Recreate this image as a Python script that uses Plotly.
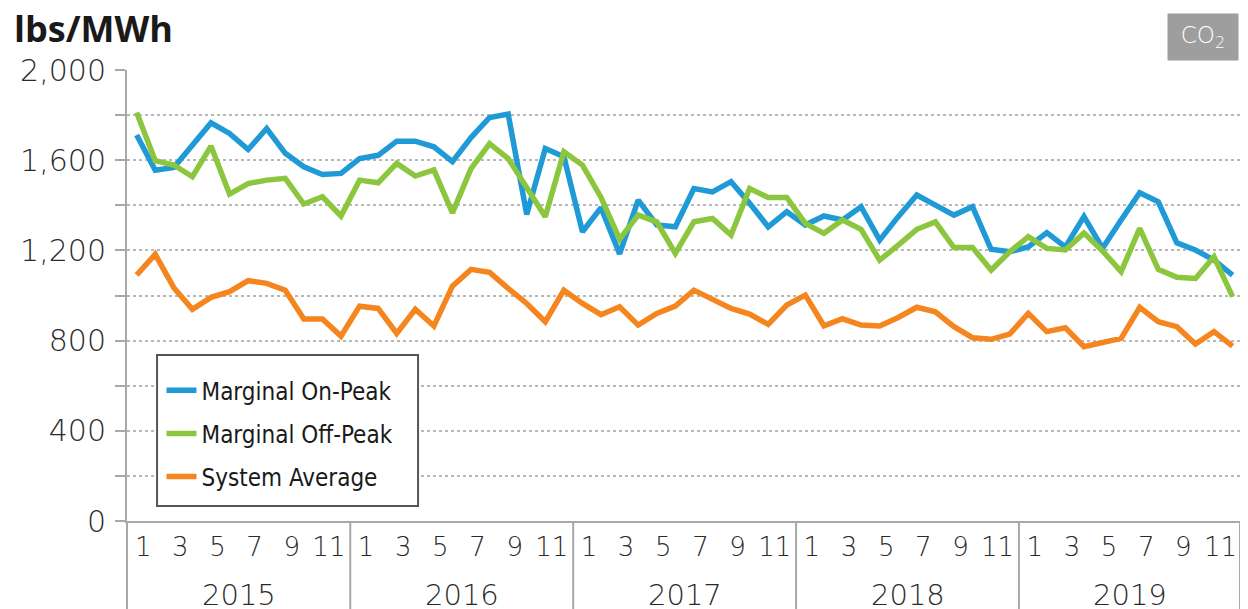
import plotly.graph_objects as go

years = ["2015", "2016", "2017", "2018", "2019"]
months = list(range(1, 13))

on_peak = [1712, 1556, 1568, 1667, 1766, 1719, 1648, 1741, 1631, 1571, 1537, 1542,
           1608, 1622, 1685, 1685, 1660, 1594, 1701, 1790, 1805, 1360, 1652, 1616,
           1283, 1390, 1185, 1423, 1313, 1305, 1475, 1460, 1505, 1409, 1305, 1372,
           1313, 1353, 1335, 1394, 1246, 1350, 1446, 1401, 1357, 1394, 1205, 1194,
           1216, 1279, 1216, 1350, 1210, 1335, 1456, 1416, 1234, 1202, 1157, 1091]
off_peak = [1812, 1598, 1579, 1527, 1663, 1450, 1497, 1512, 1520, 1406, 1438, 1353,
            1512, 1500, 1586, 1530, 1557, 1367, 1563, 1674, 1608, 1483, 1350, 1638,
            1579, 1435, 1250, 1357, 1327, 1187, 1327, 1342, 1268, 1475, 1435, 1435,
            1320, 1276, 1335, 1294, 1157, 1224, 1294, 1327, 1213, 1213, 1113, 1194,
            1261, 1209, 1202, 1277, 1198, 1106, 1298, 1116, 1081, 1076, 1172, 995]
system_avg = [1091, 1183, 1035, 939, 992, 1017, 1066, 1054, 1024, 896, 896, 820,
              953, 943, 832, 939, 865, 1042, 1116, 1103, 1032, 965, 884, 1024,
              965, 915, 950, 869, 921, 953, 1024, 984, 943, 918, 872, 958,
              1002, 866, 897, 869, 865, 903, 948, 928, 862, 813, 806, 829,
              921, 840, 857, 773, 790, 810, 948, 884, 862, 785, 840, 776]

y_ticks = [0, 400, 800, 1200, 1600, 2000]
y_tick_labels = ["0", "400", "800", "1,200", "1,600", "2,000"]

series = [("Marginal On-Peak", on_peak, "#1f9ad6"),
          ("Marginal Off-Peak", off_peak, "#8cc63e"),
          ("System Average", system_avg, "#f5861f")]

n = len(years) * len(months)
xs = list(range(n))

fig = go.Figure()
for i, (name, vals, col) in enumerate(series):
    fig.add_trace(go.Scatter(x=xs, y=vals, mode="lines", name=name,
                             line=dict(color=col, width=5.5),
                             legendgroup=f"g{i}"))

tickvals = []
ticktext = []
for yi in range(len(years)):
    for m in range(1, 13, 2):
        tickvals.append(yi * 12 + (m - 1) + 0.35)
        ticktext.append(str(m))

grid = "#b8b8b8"
axis_col = "#a8a8a8"
txt = "#2a2a2a"
num_font = "DejaVu Sans"

fig.update_layout(
    width=1240, height=601,
    margin=dict(l=119, r=8, t=62, b=88, autoexpand=False),
    paper_bgcolor="white", plot_bgcolor="white",
    showlegend=True,
    legend=dict(x=0.031, y=0.339, xanchor="left", yanchor="top",
                borderwidth=0, bgcolor="rgba(0,0,0,0)",
                font=dict(family="DejaVu Sans Condensed", size=24, color="#1a1a1a"),
                tracegroupgap=9, traceorder="grouped", itemwidth=30),
    xaxis=dict(range=[-0.52, 59.4], tickvals=tickvals, ticktext=ticktext,
               showgrid=False, zeroline=False, showline=True, linecolor=axis_col,
               linewidth=2, ticks="", automargin=False,
               tickfont=dict(family=num_font, size=26, color=txt, weight=200),
               ticklabelstandoff=2),
    yaxis=dict(range=[0, 2000.5], tickvals=y_ticks, ticktext=y_tick_labels,
               showgrid=True, gridcolor=grid, griddash="dot", gridwidth=1.5,
               zeroline=False, showline=True, linecolor=axis_col, linewidth=2,
               ticks="outside", ticklen=10, tickcolor=axis_col, tickwidth=2,
               automargin=False,
               tickfont=dict(family=num_font, size=30, color=txt, weight=200),
               ticklabelstandoff=3,
               minor=dict(dtick=200, showgrid=True, gridcolor=grid, griddash="dot",
                          gridwidth=1.5, ticks="outside", ticklen=10,
                          tickcolor=axis_col, tickwidth=2)),
)

shapes = [dict(type="line", xref="x domain", yref="paper", x0=0, x1=0, y0=0, y1=-0.25,
               line=dict(color=axis_col, width=2))]
for yi in range(1, len(years)):
    xv = yi * 12 - 0.5
    shapes.append(dict(type="line", xref="x", yref="paper", x0=xv, x1=xv, y0=0, y1=-0.25,
                       line=dict(color=axis_col, width=2)))
shapes.append(dict(type="line", xref="x domain", yref="paper", x0=1, x1=1, y0=0, y1=-0.25,
                   line=dict(color=axis_col, width=2)))
# legend frame
shapes.append(dict(type="rect", xref="paper", yref="paper", x0=0.027, x1=0.2615,
                   y0=0.0333, y1=0.368, layer="above", fillcolor="white",
                   line=dict(color="#555555", width=2)))
fig.update_layout(shapes=shapes)

annotations = []
for yi, yr in enumerate(years):
    annotations.append(dict(x=yi * 12 + 5.5, y=-0.164, xref="x", yref="paper",
                            text=yr, showarrow=False,
                            font=dict(family=num_font, size=29, color=txt, weight=200),
                            xanchor="center", yanchor="middle"))
annotations.append(dict(x=-0.1033, y=1.093, xref="paper", yref="paper", text="<b>lbs/MWh</b>",
                        showarrow=False, xanchor="left", yanchor="middle",
                        font=dict(family="Open Sans", size=36, color="#1a1a1a")))
annotations.append(dict(x=0.967, y=1.073, xref="paper", yref="paper",
                        text="CO<sub>2</sub>", showarrow=False, xanchor="center", yanchor="middle",
                        bgcolor="#9e9e9e", width=68, height=44,
                        font=dict(family=num_font, size=23, color="white", weight=200)))
fig.update_layout(annotations=annotations)

fig.write_html("out.html")
